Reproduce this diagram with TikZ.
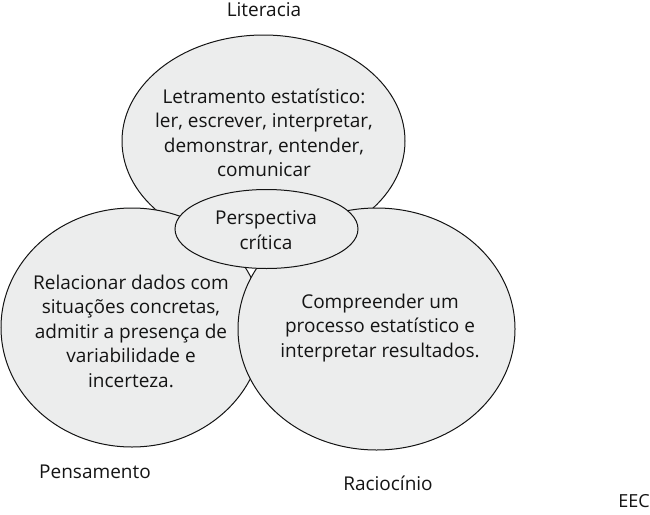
\documentclass[tikz,border=0pt]{standalone}
\usepackage{fontspec}
\setmainfont{Open Sans}
\usetikzlibrary{shapes.geometric, positioning}
\definecolor{bubble}{RGB}{236,237,237}
\definecolor{dark}{RGB}{20,20,20}

\begin{document}
\begin{tikzpicture}[
    x=1pt, y=-1pt,
    blob/.style={ellipse, draw=dark, fill=bubble, line width=1pt, inner sep=0pt},
    txt/.style={align=center, font=\fontsize{19}{24.5}\selectfont, text=dark},
    lbl/.style={font=\fontsize{19}{20}\selectfont, text=dark},
]
\useasboundingbox (0,0) rectangle (650,514);

% the three circles, then the centre
\node[blob, minimum width=283pt, minimum height=212pt] (lit) at (263.5,141) {};
\node[blob, minimum width=262pt, minimum height=239pt] (pen) at (132,327.5) {};
\node[blob, minimum width=277pt, minimum height=242pt] (rac) at (376.5,329) {};
\node[blob, minimum width=183pt, minimum height=79pt] (crit) at (266.5,229) {};

\node[txt] (littxt) at (264,133) {Letramento estatístico:\\ler, escrever, interpretar,\\demonstrar, entender,\\comunicar};
\node[txt] (pentxt) at (131,331) {Relacionar dados com\\situações concretas,\\admitir a presença de\\variabilidade e\\incerteza.};
\node[txt] (ractxt) at (380,328) {Compreender um\\processo estatístico e\\interpretar resultados.};
\node[txt] (crittxt) at (266,230) {Perspectiva\\crítica};

% labels
\node[lbl] (litlbl) at (264,10) {Literacia};
\node[lbl] (penlbl) at (95,472) {Pensamento};
\node[lbl] (raclbl) at (388,483) {Raciocínio};
\node[lbl, font=\fontsize{18}{20}\selectfont] (eec) at (634,501) {EEC};

\end{tikzpicture}
\end{document}
